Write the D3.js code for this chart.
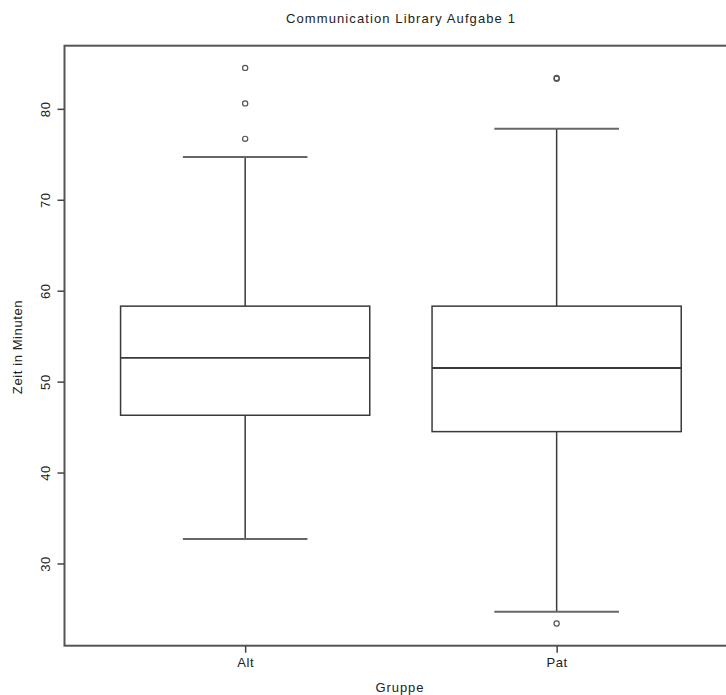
<!DOCTYPE html>
<html>
<head>
<meta charset="utf-8">
<script src="https://cdn.jsdelivr.net/npm/d3@7"></script>
<style>
  body { margin: 0; background: #fff; }
  svg { display: block; font-family: "Liberation Sans", Arial, sans-serif; }
</style>
</head>
<body>
<svg width="726" height="695"></svg>
<script>
// data
var groups   = ["Alt", "Pat"];
var lowWhisk = [32.7, 24.7];
var q1       = [46.3, 44.5];
var median   = [52.6, 51.5];
var q3       = [58.3, 58.3];
var upWhisk  = [74.7, 77.8];
var outliers = [[84.5, 80.6, 76.7], [83.3, 83.4, 23.4]];
var yTicks   = [30, 40, 50, 60, 70, 80];

var svg = d3.select("svg");

// plot region (right edge falls outside the window, as in the original)
var plot = {left: 64.5, right: 737.3, top: 45.7, bottom: 645.7};

// y domain = data range plus 4% either side
var allVals = lowWhisk.concat(upWhisk, d3.merge(outliers));
var ext = d3.extent(allVals);
var pad = (ext[1] - ext[0]) * 0.04;

var y = d3.scaleLinear()
  .domain([ext[0] - pad, ext[1] + pad])
  .range([plot.bottom, plot.top]);

var x = d3.scaleLinear()
  .domain([0.42, 2.58])
  .range([plot.left, plot.right]);

var boxHalf = 0.4, capHalf = 0.2;
var lineCol = "#3a3a3a";
var font = "'Liberation Sans', Arial, sans-serif";

var data = groups.map(function(g, i) {
  return {name: g, pos: i + 1, lo: lowWhisk[i], q1: q1[i], med: median[i],
          q3: q3[i], hi: upWhisk[i], out: outliers[i]};
});

var box = svg.append("g").selectAll(".box").data(data).enter()
  .append("g").attr("class", "box");

// whiskers
box.append("line")
  .attr("x1", d => x(d.pos)).attr("x2", d => x(d.pos))
  .attr("y1", d => y(d.q3)).attr("y2", d => y(d.hi))
  .attr("stroke", lineCol).attr("stroke-width", 1.5);
box.append("line")
  .attr("x1", d => x(d.pos)).attr("x2", d => x(d.pos))
  .attr("y1", d => y(d.q1)).attr("y2", d => y(d.lo))
  .attr("stroke", lineCol).attr("stroke-width", 1.5);

// caps
box.selectAll(".cap").data(d => [{p: d.pos, v: d.hi}, {p: d.pos, v: d.lo}])
  .enter().append("line")
  .attr("x1", d => x(d.p - capHalf)).attr("x2", d => x(d.p + capHalf))
  .attr("y1", d => y(d.v)).attr("y2", d => y(d.v))
  .attr("stroke", "#666").attr("stroke-width", 2);

// box
box.append("rect")
  .attr("x", d => x(d.pos - boxHalf))
  .attr("width", d => x(d.pos + boxHalf) - x(d.pos - boxHalf))
  .attr("y", d => y(d.q3))
  .attr("height", d => y(d.q1) - y(d.q3))
  .attr("fill", "#fff").attr("stroke", lineCol).attr("stroke-width", 1.5);

// median
box.append("line")
  .attr("x1", d => x(d.pos - boxHalf)).attr("x2", d => x(d.pos + boxHalf))
  .attr("y1", d => y(d.med)).attr("y2", d => y(d.med))
  .attr("stroke", lineCol).attr("stroke-width", 1.8);

// outliers
box.selectAll("circle").data(d => d.out.map(v => ({p: d.pos, v: v})))
  .enter().append("circle")
  .attr("cx", d => x(d.p)).attr("cy", d => y(d.v)).attr("r", 2.6)
  .attr("fill", "none").attr("stroke", "#555").attr("stroke-width", 1.2);

// frame
svg.append("rect")
  .attr("x", plot.left).attr("y", plot.top)
  .attr("width", plot.right - plot.left).attr("height", plot.bottom - plot.top)
  .attr("fill", "none").attr("stroke", "#555").attr("stroke-width", 2);

// y axis
var yAxis = d3.axisLeft(y).tickValues(yTicks).tickSize(7).tickPadding(8);
var gY = svg.append("g")
  .attr("transform", "translate(" + plot.left + ",0)")
  .call(yAxis);
gY.select(".domain").remove();
gY.selectAll(".tick line").attr("stroke", "#444").attr("stroke-width", 1.5);
gY.selectAll(".tick text")
  .attr("transform", "rotate(-90)")
  .attr("x", 0).attr("y", -19)
  .attr("dy", "0.35em")
  .style("text-anchor", "middle")
  .attr("fill", "#222").style("font-size", "13px")
  .style("letter-spacing", "0.6px")
  .style("font-family", font);

// x axis
var xAxis = d3.axisBottom(x).tickValues([1, 2]).tickFormat((d, i) => groups[i])
  .tickSize(7).tickPadding(5);
var gX = svg.append("g")
  .attr("transform", "translate(0," + plot.bottom + ")")
  .call(xAxis);
gX.select(".domain").remove();
gX.selectAll(".tick line").attr("stroke", "#444").attr("stroke-width", 1.5);
gX.selectAll(".tick text")
  .attr("fill", "#222").style("font-size", "13px")
  .style("letter-spacing", "0.6px")
  .style("font-family", font);

// titles
svg.append("text")
  .attr("x", 401).attr("y", 23)
  .attr("text-anchor", "middle")
  .style("font-size", "13px").style("letter-spacing", "1.1px").attr("fill", "#222")
  .text("Communication Library Aufgabe 1");

svg.append("text")
  .attr("x", 400).attr("y", 692)
  .attr("text-anchor", "middle")
  .style("font-size", "13px").style("letter-spacing", "0.9px").attr("fill", "#222")
  .text("Gruppe");

svg.append("text")
  .attr("transform", "translate(22,347) rotate(-90)")
  .attr("text-anchor", "middle")
  .style("font-size", "13px").style("letter-spacing", "0.6px").attr("fill", "#222")
  .text("Zeit in Minuten");
</script>
</body>
</html>
